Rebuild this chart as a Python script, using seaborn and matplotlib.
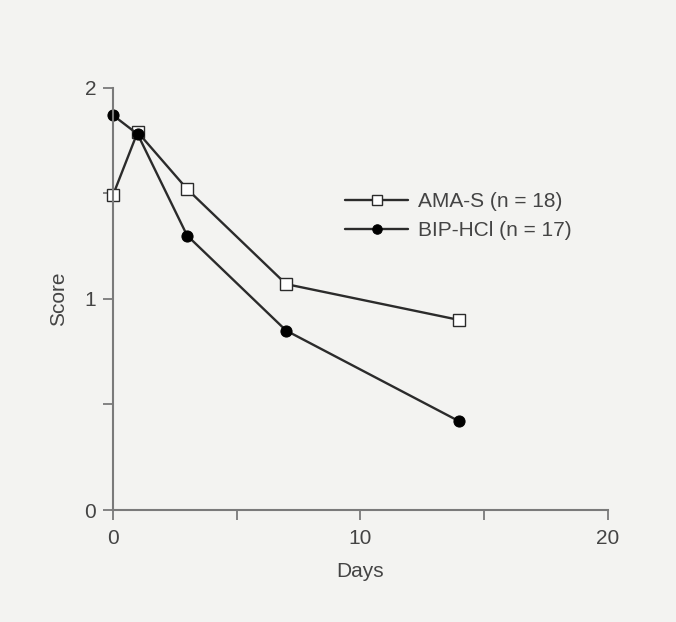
import pandas as pd
import seaborn as sns
import matplotlib.pyplot as plt

# Daten
days = [0, 1, 3, 7, 14]
ama_s = [1.49, 1.79, 1.52, 1.07, 0.90]
bip_hcl = [1.87, 1.78, 1.30, 0.85, 0.42]
labels = ['AMA-S (n = 18)', 'BIP-HCl (n = 17)']

df = pd.DataFrame({
    'Days': days * 2,
    'Score': ama_s + bip_hcl,
    'Group': [labels[0]] * len(days) + [labels[1]] * len(days),
})

sns.set_theme(style='ticks')
plt.rcParams['font.family'] = ['Liberation Sans', 'DejaVu Sans']

bg = '#f3f3f1'
ink = '#2b2b2b'
axis_col = '#7a7a7a'
text_col = '#444444'

fig, ax = plt.subplots(figsize=(6.76, 6.22), dpi=100)
fig.patch.set_facecolor(bg)
ax.set_facecolor(bg)
fig.subplots_adjust(left=0.167, right=0.899, bottom=0.18, top=0.859)

sns.lineplot(data=df[df['Group'] == labels[0]], x='Days', y='Score', ax=ax,
             color=ink, linewidth=1.7, marker='s', markersize=8,
             markerfacecolor='white', markeredgecolor=ink, markeredgewidth=1.0,
             label=labels[0])
sns.lineplot(data=df[df['Group'] == labels[1]], x='Days', y='Score', ax=ax,
             color=ink, linewidth=1.7, marker='o', markersize=8,
             markerfacecolor='black', markeredgecolor='black',
             label=labels[1])

ax.set_xlim(0, 20)
ax.set_ylim(0, 2)
ax.set_xticks([0, 5, 10, 15, 20])
ax.set_xticklabels(['0', '', '10', '', '20'])
ax.set_yticks([0, 0.5, 1, 1.5, 2])
ax.set_yticklabels(['0', '', '1', '', '2'])
ax.margins(0)
for side in ['top', 'right']:
    ax.spines[side].set_visible(False)
for side in ['left', 'bottom']:
    ax.spines[side].set_color(axis_col)
    ax.spines[side].set_linewidth(1.5)
ax.tick_params(colors=axis_col, width=1.3, length=7, labelsize=15,
               labelcolor=text_col)
ax.tick_params(axis='x', pad=7)
ax.tick_params(axis='y', pad=5)
ax.set_xlabel('Days', fontsize=15, color=text_col, labelpad=10)
ax.set_ylabel('Score', fontsize=15, color=text_col, labelpad=12)
for line in ax.get_lines():
    line.set_clip_on(False)

leg = ax.legend(loc='upper left', bbox_to_anchor=(0.47, 0.752), frameon=False,
                fontsize=15, handlelength=3.0, handletextpad=0.5,
                borderpad=0, borderaxespad=0, labelspacing=0.45,
                markerscale=0.85)
for t in leg.get_texts():
    t.set_color(text_col)

plt.savefig('out.png', dpi=100, facecolor=bg)
